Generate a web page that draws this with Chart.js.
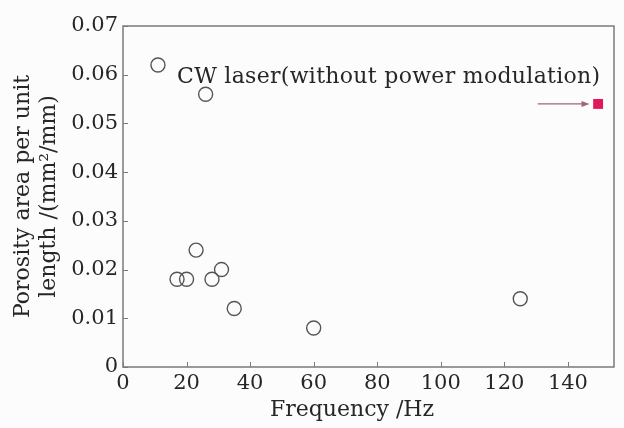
<!DOCTYPE html>
<html>
<head>
<meta charset="utf-8">
<script src="https://cdn.jsdelivr.net/npm/chart.js@4.4.1/dist/chart.umd.min.js"></script>
<style>
  html, body { margin: 0; padding: 0; background: #fcfcfc; }
  #wrap { width: 624px; height: 428px; }
</style>
</head>
<body>
<div id="wrap"><canvas id="c" width="624" height="428"></canvas></div>
<script>
// pulsed (modulated) runs
const freqHz   = [11, 26, 17, 20, 23, 28, 31, 35, 60, 125];
const porosity = [0.062, 0.056, 0.018, 0.018, 0.024, 0.018, 0.020, 0.012, 0.008, 0.014];

// CW reference point
const cwFreq = [149.5];
const cwPorosity = [0.054];

const xTicks = [0, 20, 40, 60, 80, 100, 120, 140];
const yTicks = [0, 0.01, 0.02, 0.03, 0.04, 0.05, 0.06, 0.07];

const cwLabel = 'CW laser(without power modulation)';

const ink = '#262626';
const axisCol = '#7a7a7a';
const serif = "'DejaVu Serif', serif";

// inward ticks, frame, annotation + arrow
const framePlugin = {
    id: 'frame',
    afterDraw(chart) {
        const { ctx, chartArea: a, scales: { x, y } } = chart;
        ctx.save();
        ctx.strokeStyle = axisCol;
        ctx.lineWidth = 1.5;
        ctx.strokeRect(a.left, a.top, a.right - a.left, a.bottom - a.top);

        ctx.lineWidth = 1;
        ctx.beginPath();
        xTicks.forEach(v => {
            const px = Math.round(x.getPixelForValue(v)) + 0.5;
            ctx.moveTo(px, a.bottom);
            ctx.lineTo(px, a.bottom - 5);
        });
        yTicks.forEach(v => {
            const py = Math.round(y.getPixelForValue(v)) + 0.5;
            ctx.moveTo(a.left, py);
            ctx.lineTo(a.left + 5, py);
        });
        ctx.stroke();

        // annotation text
        ctx.fillStyle = ink;
        ctx.font = `22px ${serif}`;
        ctx.letterSpacing = '0.3px';
        ctx.textAlign = 'left';
        ctx.textBaseline = 'middle';
        ctx.fillText(cwLabel, x.getPixelForValue(17), y.getPixelForValue(0.0595));

        // arrow to CW point
        const ay = y.getPixelForValue(cwPorosity[0]);
        const x0 = x.getPixelForValue(130.5);
        const x1 = x.getPixelForValue(146.8);
        ctx.strokeStyle = '#9a6878';
        ctx.fillStyle = '#9a6878';
        ctx.lineWidth = 1.2;
        ctx.beginPath();
        ctx.moveTo(x0, ay);
        ctx.lineTo(x1 - 6, ay);
        ctx.stroke();
        ctx.beginPath();
        ctx.moveTo(x1, ay);
        ctx.lineTo(x1 - 8, ay - 3);
        ctx.lineTo(x1 - 8, ay + 3);
        ctx.closePath();
        ctx.fill();
        ctx.restore();
    }
};

new Chart(document.getElementById('c'), {
    type: 'scatter',
    data: {
        datasets: [{
            data: freqHz.map((f, i) => ({ x: f, y: porosity[i] })),
            pointStyle: 'circle',
            pointRadius: 7,
            pointHoverRadius: 7,
            borderColor: '#555',
            borderWidth: 1.4,
            backgroundColor: 'rgba(0,0,0,0)'
        }, {
            data: cwFreq.map((f, i) => ({ x: f, y: cwPorosity[i] })),
            pointStyle: 'rect',
            pointRadius: 7,
            pointHoverRadius: 7,
            borderColor: '#e0185a',
            borderWidth: 0,
            backgroundColor: '#e0185a'
        }]
    },
    options: {
        responsive: false,
        animation: false,
        devicePixelRatio: 1,
        layout: { padding: { top: 26, right: 10, left: 0, bottom: 0 } },
        plugins: { legend: { display: false }, tooltip: { enabled: false } },
        scales: {
            x: {
                type: 'linear',
                min: 0,
                max: 154.5,
                afterBuildTicks: s => { s.ticks = xTicks.map(v => ({ value: v })); },
                afterFit: s => { s.height = 61; s.paddingLeft = 0; s.paddingRight = 0; },
                grid: { display: false, drawTicks: false },
                border: { display: false },
                ticks: {
                    color: ink,
                    font: { family: serif, size: 21 },
                    padding: 4,
                    maxRotation: 0,
                    autoSkip: false
                },
                title: {
                    display: true,
                    text: 'Frequency /Hz\u2002\u2002\u2002',
                    color: ink,
                    font: { family: serif, size: 22 },
                    padding: { top: 0, bottom: 5 }
                }
            },
            y: {
                type: 'linear',
                min: 0,
                max: 0.07,
                afterBuildTicks: s => { s.ticks = yTicks.map(v => ({ value: v })); },
                afterFit: s => { s.width = 123; s.paddingTop = 0; s.paddingBottom = 0; },
                grid: { display: false, drawTicks: false },
                border: { display: false },
                ticks: {
                    color: ink,
                    font: { family: serif, size: 21 },
                    padding: 5,
                    autoSkip: false,
                    callback: v => v === 0 ? '0' : v.toFixed(2)
                },
                title: {
                    display: true,
                    text: ['Porosity area per unit', 'length /(mm²/mm)'],
                    color: ink,
                    font: { family: serif, size: 22, lineHeight: 1.2 },
                    padding: { top: 10, bottom: 0 }
                }
            }
        }
    },
    plugins: [framePlugin]
});
</script>
</body>
</html>
